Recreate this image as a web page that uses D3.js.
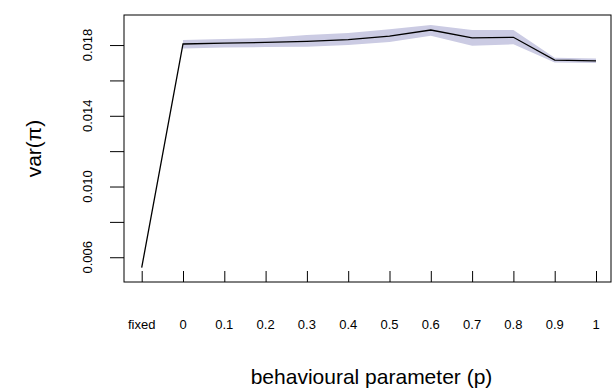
<!DOCTYPE html>
<html>
<head>
<meta charset="utf-8">
<script src="https://cdn.jsdelivr.net/npm/d3@7"></script>
<style>
  body { margin: 0; background: #fff; }
  svg { display: block; font-family: "Liberation Sans", Arial, sans-serif; }
</style>
</head>
<body>
<svg id="chart" width="616" height="391"></svg>
<script>
// categories along the x axis
const categories = ['fixed', '0', '0.1', '0.2', '0.3', '0.4', '0.5', '0.6', '0.7', '0.8', '0.9', '1'];
// mean var(pi) per category
const meanVar = [0.00541, 0.01806, 0.01811, 0.01815, 0.01821, 0.01831, 0.01851, 0.01885, 0.01841, 0.01844, 0.01715, 0.01711];
// interval band (no band for "fixed")
const bandUpper = [null, 0.01828, 0.01834, 0.0184, 0.01857, 0.01868, 0.0189, 0.01913, 0.01885, 0.01885, 0.01728, 0.01724];
const bandLower = [null, 0.01781, 0.01786, 0.01789, 0.0179, 0.018, 0.01817, 0.01853, 0.01796, 0.01804, 0.01702, 0.01698];
const yTicks = [0.006, 0.008, 0.010, 0.012, 0.014, 0.016, 0.018];
const yLabelled = [0.006, 0.010, 0.014, 0.018];

const box = { left: 124, top: 15, right: 611, bottom: 282 };

const svg = d3.select('#chart');

const x = d3.scalePoint()
  .domain(categories)
  .range([141.7, 596]);

const y = d3.scaleLinear()
  .domain([0.0046, 0.0197])
  .range([box.bottom, box.top]);

const rows = categories.map((c, i) => ({ c, m: meanVar[i], hi: bandUpper[i], lo: bandLower[i] }));

// shaded band
const area = d3.area()
  .defined(d => d.hi != null)
  .x(d => x(d.c))
  .y0(d => y(d.lo))
  .y1(d => y(d.hi));

svg.append('path')
  .datum(rows)
  .attr('d', area)
  .attr('fill', '#cbcbe3');

// mean line
const line = d3.line()
  .x(d => x(d.c))
  .y(d => y(d.m));

svg.append('path')
  .datum(rows)
  .attr('d', line)
  .attr('fill', 'none')
  .attr('stroke', '#000')
  .attr('stroke-width', 1.3);

// x axis: inward ticks, labels further down
const xAxis = svg.append('g')
  .attr('transform', `translate(0,${box.bottom})`)
  .call(d3.axisBottom(x).tickSize(-11).tickPadding(0).tickFormat(''));
xAxis.select('.domain').remove();
xAxis.selectAll('.tick line').attr('stroke', '#000');

svg.append('g')
  .selectAll('text')
  .data(categories)
  .join('text')
  .attr('x', d => x(d))
  .attr('y', 329)
  .attr('text-anchor', 'middle')
  .attr('font-size', 13)
  .attr('fill', '#000')
  .text(d => d);

// y axis
const yAxis = svg.append('g')
  .attr('transform', `translate(${box.left},0)`)
  .call(d3.axisLeft(y).tickValues(yTicks).tickSize(14).tickFormat(''));
yAxis.select('.domain').remove();
yAxis.selectAll('.tick line').attr('stroke', '#000');

svg.append('g')
  .selectAll('text')
  .data(yLabelled)
  .join('text')
  .attr('transform', d => `translate(92,${y(d)}) rotate(-90)`)
  .attr('text-anchor', 'middle')
  .attr('font-size', 13)
  .attr('fill', '#000')
  .text(d => d3.format('.3f')(d));

// frame
svg.append('rect')
  .attr('x', box.left)
  .attr('y', box.top)
  .attr('width', box.right - box.left)
  .attr('height', box.bottom - box.top)
  .attr('fill', 'none')
  .attr('stroke', '#000')
  .attr('stroke-width', 1);

// titles
svg.append('text')
  .attr('x', (box.left + box.right) / 2 + 4)
  .attr('y', 384)
  .attr('text-anchor', 'middle')
  .attr('font-size', 21)
  .text('behavioural parameter (p)');

svg.append('text')
  .attr('transform', `translate(41,${(box.top + box.bottom) / 2}) rotate(-90)`)
  .attr('text-anchor', 'middle')
  .attr('font-size', 21)
  .text('var(π)');
</script>
</body>
</html>
